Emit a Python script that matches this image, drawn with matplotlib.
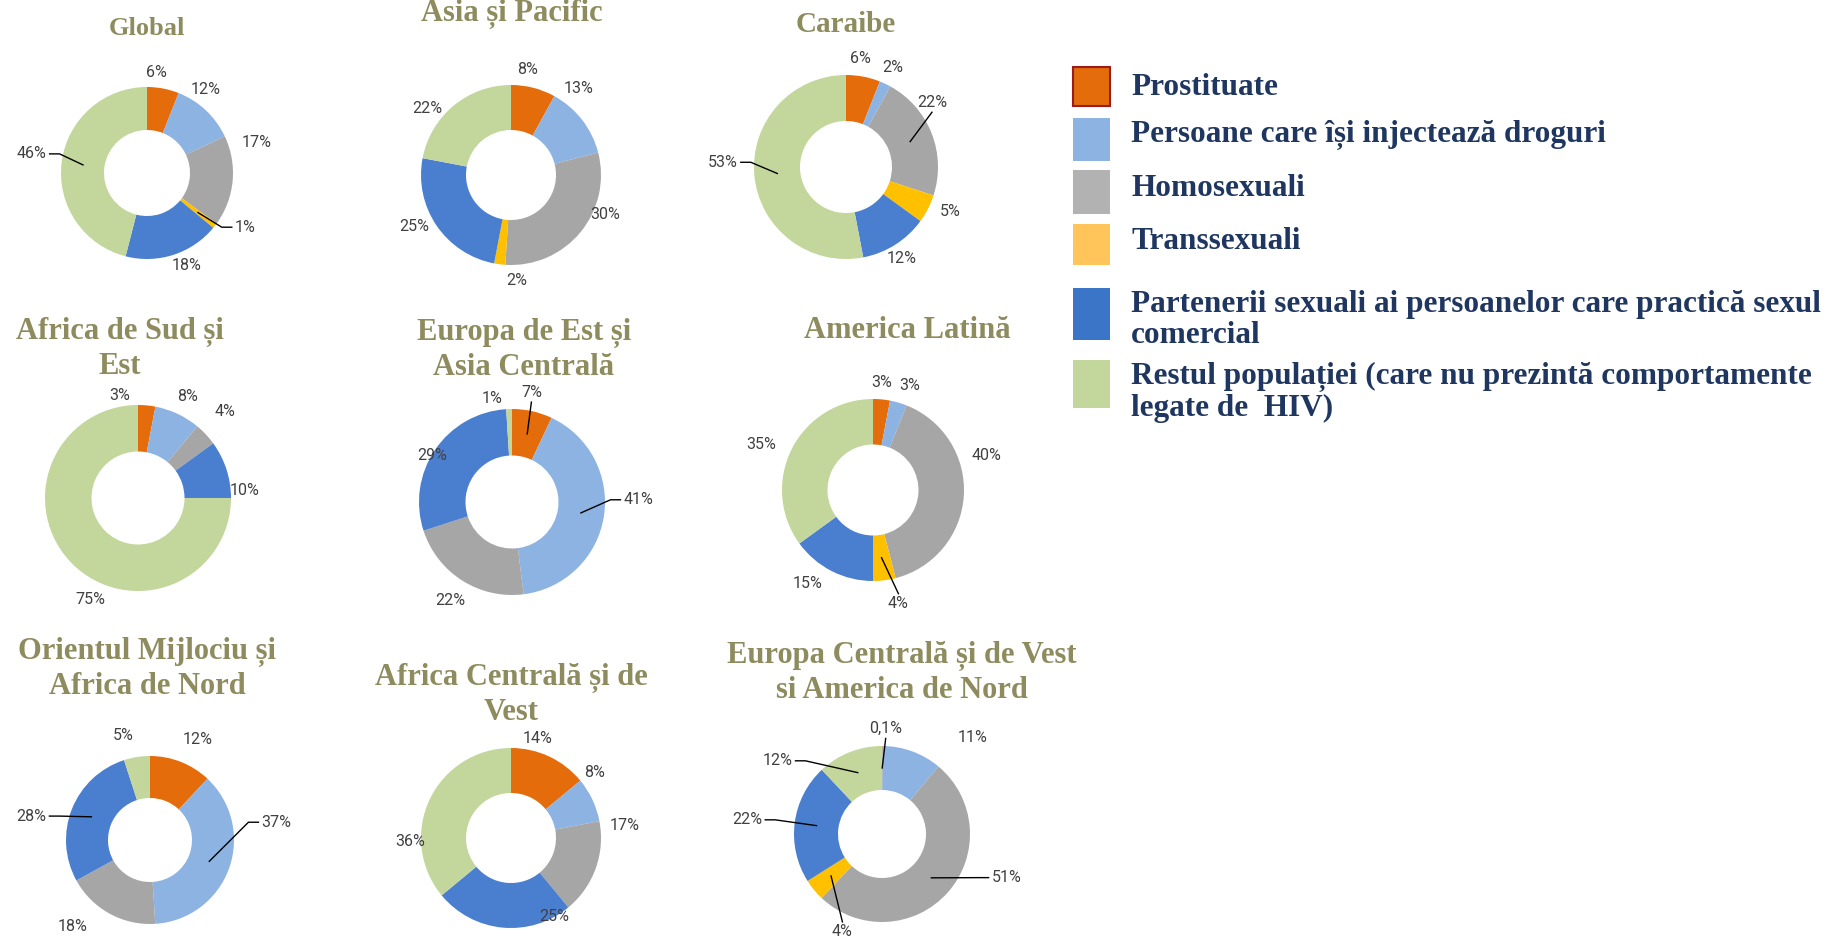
import numpy as np
import matplotlib.pyplot as plt
from matplotlib.patches import Rectangle

W, H = 1847, 941

# --- data -------------------------------------------------------------
categories = [
    "Prostituate",
    "Persoane care își injectează droguri",
    "Homosexuali",
    "Transsexuali",
    "Partenerii sexuali ai persoanelor care practică sexul\ncomercial",
    "Restul populației (care nu prezintă comportamente\nlegate de  HIV)",
]
regions = [
    "Global",
    "Asia și Pacific",
    "Caraibe",
    "Africa de Sud și\nEst",
    "Europa de Est și\nAsia Centrală",
    "America Latină",
    "Orientul Mijlociu și\nAfrica de Nord",
    "Africa Centrală și de\nVest",
    "Europa Centrală și de Vest\nsi America de Nord",
]
global_vals = [6, 12, 17, 1, 18, 46]
asia_vals = [8, 13, 30, 2, 25, 22]
caraibe_vals = [6, 2, 22, 5, 12, 53]
africa_sud_vals = [3, 8, 4, 0, 10, 75]
europa_est_vals = [7, 41, 22, 0, 29, 1]
america_latina_vals = [3, 3, 40, 4, 15, 35]
orientul_vals = [12, 37, 18, 0, 28, 5]
africa_centrala_vals = [14, 8, 17, 0, 25, 36]
europa_centrala_vals = [0.1, 11, 51, 4, 22, 12]

chart_values = [global_vals, asia_vals, caraibe_vals,
                africa_sud_vals, europa_est_vals, america_latina_vals,
                orientul_vals, africa_centrala_vals, europa_centrala_vals]

# --- style / layout -----------------------------------------------------
colors = ["#E46C0A", "#8DB3E2", "#A6A6A6", "#FFC000", "#4A7FD0", "#C3D69B"]
legend_colors = ["#E46C0A", "#8DB3E2", "#B2B2B2", "#FFC55A", "#3A75C8", "#C3D69B"]
title_color = "#8E8C5E"
legend_text_color = "#1F3760"
label_color = "#404040"

centers = [(147, 173), (511, 175), (846, 167),
           (138, 498), (512, 502), (873, 490),
           (150, 840), (511, 838), (882, 834)]
radii = [86, 90, 92, 93, 93, 91, 84, 90, 88]
title_xy = [(147, 28), (512, 14), (846, 24),
            (120, 332), (524, 333), (907, 330),
            (147, 652), (511, 678), (902, 656)]
title_sizes = [19, 22, 21, 22, 22, 22, 22, 22, 22]

# label placement (angle in degrees, distance in radii) and leader flags
label_pos = [
    [(84.6, 1.17), (54.8, 1.19), (15.6, 1.32), (-29, 1.3), (-67, 1.17), (170.6, 1.36)],
    [(81, 1.19), (52, 1.22), (-22.7, 1.13), (-87, 1.17), (-152, 1.22), (141.7, 1.19)],
    [(82.6, 1.19), (64.8, 1.2), (37, 1.17), (-23, 1.23), (-58.6, 1.16), (177.8, 1.34)],
    [(100, 1.12), (64, 1.22), (45, 1.32), None, (4, 1.15), (-115, 1.2)],
    [(80, 1.2), (1, 1.36), (-122, 1.25), None, (150, 0.99), (101, 1.13)],
    [(85.6, 1.18), (70.8, 1.22), (16.8, 1.3), (-77.4, 1.28), (-125, 1.25), (157.7, 1.33)],
    [(64.5, 1.33), (8, 1.52), (-131.7, 1.38), None, (168.6, 1.44), (104.6, 1.28)],
    [(75, 1.14), (37.8, 1.18), (6.5, 1.27), None, (-61, 1.0), (-178, 1.12)],
    [(88, 1.2), (46.8, 1.5), (-19.3, 1.5), (-112, 1.2), (174, 1.54), (145, 1.45)],
]
leaders = [
    [0, 0, 0, 1, 0, 1],
    [0, 0, 0, 0, 0, 0],
    [0, 0, 1, 0, 0, 1],
    [0, 0, 0, 0, 0, 0],
    [1, 1, 0, 0, 0, 0],
    [0, 0, 0, 1, 0, 0],
    [0, 1, 0, 0, 1, 0],
    [0, 0, 0, 0, 0, 0],
    [1, 0, 1, 1, 1, 1],
]

serif = ["Liberation Serif", "DejaVu Serif"]
sans = ["Roboto", "DejaVu Sans"]


def fmt(v):
    if v < 1:
        return f"{v}".replace(".", ",") + "%"
    return f"{v:.0f}%"


fig = plt.figure(figsize=(W / 100, H / 100), dpi=100)
ax = fig.add_axes([0, 0, 1, 1])

for k, vals in enumerate(chart_values):
    cx, cy = centers[k]
    cy = H - cy
    R = radii[k]
    wedges, _ = ax.pie(vals, colors=colors, startangle=90, counterclock=False,
                       radius=R, center=(cx, cy),
                       wedgeprops=dict(width=0.5 * R, linewidth=0))
    for i, (w, v) in enumerate(zip(wedges, vals)):
        if v == 0:
            continue
        mid = np.deg2rad((w.theta1 + w.theta2) / 2)
        pos = label_pos[k][i]
        ang, rf = (np.rad2deg(mid), 1.22) if pos is None else pos
        a = np.deg2rad(ang)
        lx, ly = cx + rf * R * np.cos(a), cy + rf * R * np.sin(a)
        txt = fmt(v)
        ax.text(lx, ly, txt, ha="center", va="center", fontsize=11.5,
                family=sans, color=label_color)
        if leaders[k][i]:
            axx = cx + 0.75 * R * np.cos(mid)
            ayy = cy + 0.75 * R * np.sin(mid)
            half_w = len(txt) * 5.0
            if abs(lx - axx) > abs(ly - ayy) * 0.8:
                s = np.sign(lx - axx)
                ex = lx - s * (half_w + 3)
                xs = [axx, ex - s * 10, ex]
                ys = [ayy, ly, ly]
            else:
                s = np.sign(ly - ayy)
                xs = [axx, lx]
                ys = [ayy, ly - s * 10]
            ax.plot(xs, ys, color="black", lw=1.0)

    # title
    tx, ty = title_xy[k]
    for j, line in enumerate(regions[k].split("\n")):
        ax.text(tx, H - (ty + 34 * j), line, ha="center", va="center",
                fontsize=title_sizes[k], fontweight="bold", family=serif,
                color=title_color)

# legend
patch_boxes = [(67, 106), (118, 161), (170, 214), (224, 265), (288, 340), (360, 408)]
text_y = [87, 135, 188, 241, 304, 377]
for i, cat in enumerate(categories):
    y0, y1 = patch_boxes[i]
    ec = "#9B1C1C" if i == 0 else "none"
    ax.add_patch(Rectangle((1073, H - y1), 37, y1 - y0, facecolor=legend_colors[i],
                           edgecolor=ec, lw=1.5))
    for j, line in enumerate(cat.split("\n")):
        ax.text(1131, H - (text_y[i] + 31 * j), line, ha="left", va="center",
                fontsize=22.5, fontweight="bold", family=serif,
                color=legend_text_color)

ax.set_xlim(0, W)
ax.set_ylim(0, H)
ax.set_aspect("equal")
ax.axis("off")

fig.savefig("out.png", dpi=100, facecolor="white")
